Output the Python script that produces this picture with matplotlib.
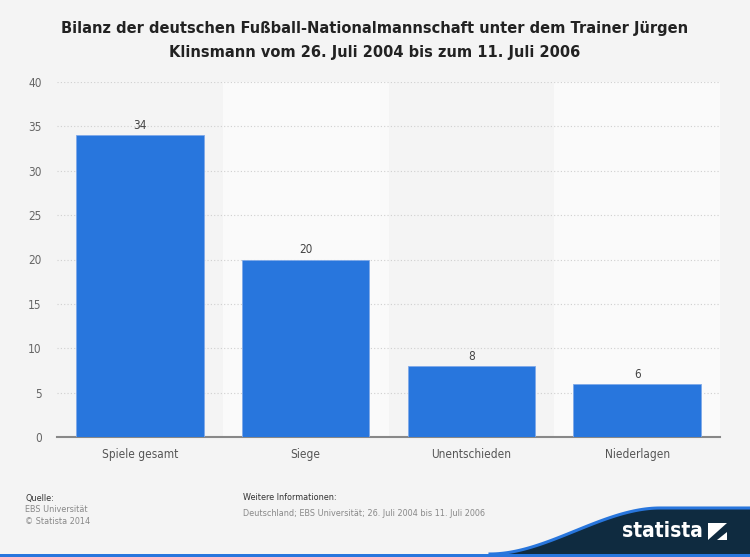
import matplotlib
matplotlib.use("Agg")
import matplotlib.pyplot as plt
import numpy as np
from matplotlib.patches import Polygon, Rectangle
from matplotlib.lines import Line2D

categories = ["Spiele gesamt", "Siege", "Unentschieden", "Niederlagen"]
values = [34, 20, 8, 6]
yticks = [0, 5, 10, 15, 20, 25, 30, 35, 40]

plt.rcParams["font.family"] = ["DejaVu Sans"]
plt.rcParams["font.stretch"] = "condensed"

W, H = 750, 557
fig = plt.figure(figsize=(W / 100, H / 100), dpi=100)
fig.patch.set_facecolor("#f4f4f4")

ax = fig.add_axes([57 / W, 1 - 437 / H, 663 / W, 355 / H])
ax.set_facecolor("#f4f4f4")
x = np.arange(len(categories))
for i in x:
    if i % 2 == 1:
        ax.axvspan(i - 0.5, i + 0.5, color="#fafafa", zorder=0, lw=0)
ax.set_xlim(-0.5, len(categories) - 0.5)
ax.set_ylim(0, 40)
ax.set_yticks(yticks)
ax.yaxis.grid(True, color="#cfcfcf", linestyle=(0, (1, 2)), linewidth=0.8)
ax.set_axisbelow(True)
bars = ax.bar(x, values, width=0.77, color="#2876dd", edgecolor="#7fa9e8", linewidth=0.6, zorder=3)
for xi, v in zip(x, values):
    ax.text(xi, v + 0.35, str(v), ha="center", va="bottom", fontsize=8.5, color="#444444", zorder=4)
ax.set_xticks(x)
ax.set_xticklabels(categories, fontsize=8.5, color="#555555")
ax.tick_params(axis="y", labelsize=8.5, colors="#666666", length=0, pad=11)
ax.tick_params(axis="x", length=0, pad=8)
for s in ["top", "right", "left"]:
    ax.spines[s].set_visible(False)
ax.spines["bottom"].set_color("#888888")
ax.spines["bottom"].set_linewidth(1.5)

fig.text(0.5, 1 - 41 / H, "Bilanz der deutschen Fußball-Nationalmannschaft unter dem Trainer Jürgen\nKlinsmann vom 26. Juli 2004 bis zum 11. Juli 2006",
         ha="center", va="center", fontsize=10.5, fontweight="bold", fontstretch="normal",
         color="#222222", linespacing=1.75)

fig.text(25 / W, 1 - 498 / H, "Quelle:", fontsize=6.5, color="#333333", va="center")
fig.text(25 / W, 1 - 510 / H, "EBS Universität", fontsize=6.5, color="#888888", va="center")
fig.text(25 / W, 1 - 522 / H, "© Statista 2014", fontsize=6.5, color="#888888", va="center")
fig.text(243 / W, 1 - 498 / H, "Weitere Informationen:", fontsize=6.5, color="#333333", va="center")
fig.text(243 / W, 1 - 513 / H, "Deutschland; EBS Universität; 26. Juli 2004 bis 11. Juli 2006", fontsize=6.5, color="#888888", va="center")

# footer logo shape (S-curve)
t = np.linspace(0, 1, 60)
s = t * t * (3 - 2 * t)
curve_x = 490 + (660 - 490) * t
curve_y = 554 - (554 - 508) * s
pts = [(px / W, 1 - py / H) for px, py in zip(curve_x, curve_y)]
fill_pts = pts + [(1.0, 1 - 508 / H), (1.0, 1 - 554 / H)]
fig.patches.append(Polygon(fill_pts, closed=True, transform=fig.transFigure, facecolor="#0f2b40", edgecolor="none"))
edge_x = [p[0] for p in pts] + [1.0]
edge_y = [p[1] for p in pts] + [1 - 508 / H]
fig.lines.append(Line2D(edge_x, edge_y, transform=fig.transFigure, color="#2876dd", linewidth=2.2))
fig.patches.append(Rectangle((0, 0), 1, 3 / H, transform=fig.transFigure, facecolor="#2876dd", edgecolor="none"))
fig.text(703 / W, 1 - 531 / H, "statista", fontsize=15, fontweight="bold", color="white", ha="right", va="center")
fig.patches.append(Rectangle((708 / W, 1 - 540 / H), 19 / W, 17 / H, transform=fig.transFigure, facecolor="white", edgecolor="none"))
fig.patches.append(Polygon([(708 / W, 1 - 540 / H), (727 / W, 1 - 523 / H), (727 / W, 1 - 532 / H), (717 / W, 1 - 540 / H)],
                           closed=True, transform=fig.transFigure, facecolor="#0f2b40", edgecolor="none"))

fig.savefig("out.png", dpi=100, facecolor=fig.get_facecolor())
